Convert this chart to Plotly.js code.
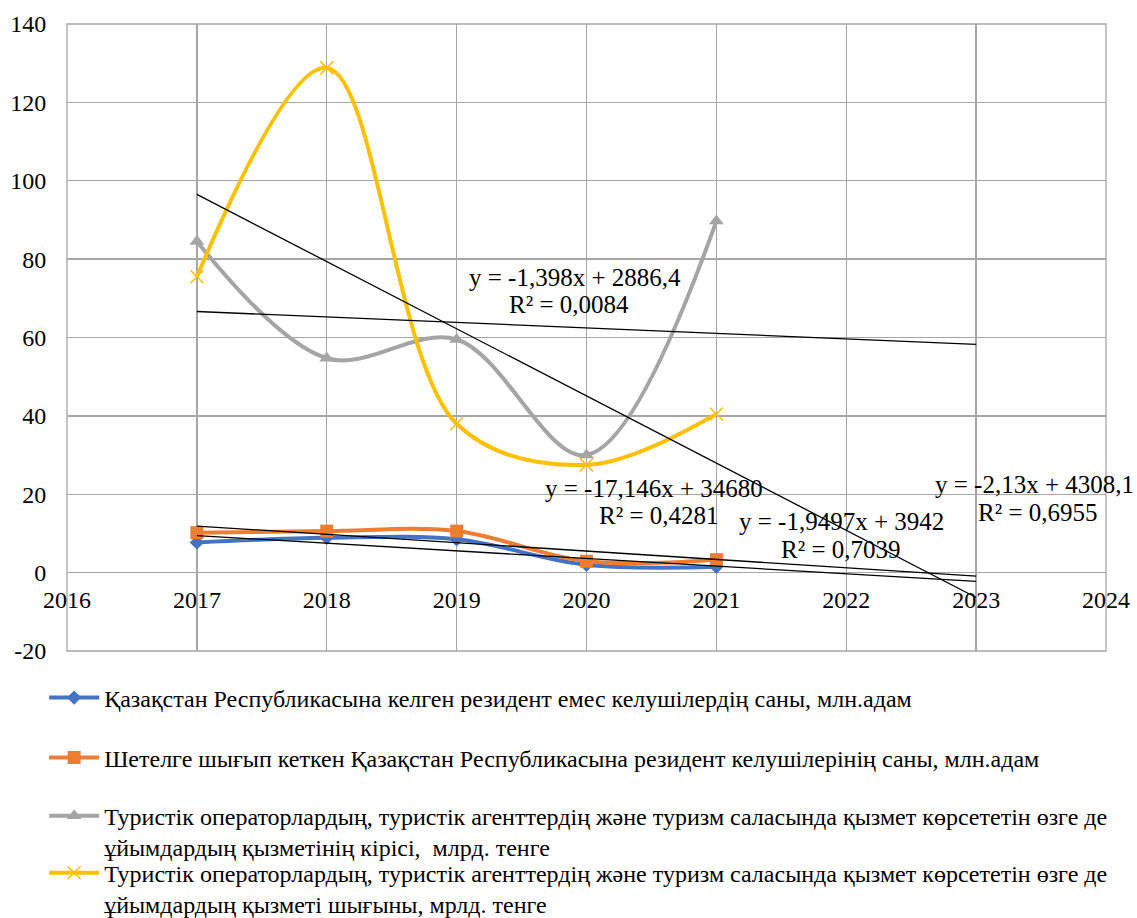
<!DOCTYPE html>
<html>
<head>
<meta charset="utf-8">
<script src="https://cdn.plot.ly/plotly-3.0.1.min.js"></script>
<style>html,body{margin:0;padding:0;background:#fff;}#chart{width:1137px;height:918px;}</style>
</head>
<body>
<div id="chart"></div>
<script>
// ---- data ----
const years = [2017, 2018, 2019, 2020, 2021];
const seriesNames = [
  "Қазақстан Республикасына келген резидент емес келушілердің саны, млн.адам",
  "Шетелге шығып кеткен Қазақстан Республикасына резидент келушілерінің саны, млн.адам",
  "Туристік операторлардың, туристік агенттердің және туризм саласында қызмет көрсететін өзге де<br>ұйымдардың қызметінің кірісі,  млрд. тенге",
  "Туристік операторлардың, туристік агенттердің және туризм саласында қызмет көрсететін өзге де<br>ұйымдардың қызметі шығыны, мрлд. тенге"
];
const nonResidentArrivals = [7.7, 8.9, 8.5, 2.0, 1.5];
const residentDepartures = [10.2, 10.6, 10.6, 2.9, 3.3];
const tourismIncome = [84.5, 54.7, 59.5, 30.0, 89.7];
const tourismExpenses = [75.5, 128.8, 38.0, 27.5, 40.5];

// trendlines (linear, from the equations shown on the chart)
const trendSlopes = [-1.398, -17.146, -1.9497, -2.13];
const trendIntercepts = [2886.4, 34680, 3942, 4308.1];
const trendEquations = ["y = -1,398x + 2886,4", "y = -17,146x + 34680", "y = -1,9497x + 3942", "y = -2,13x + 4308,1"];
const trendR2 = ["R² = 0,0084", "R² = 0,4281", "R² = 0,7039", "R² = 0,6955"];
const trendX = [2017, 2023];

const xTicks = [2016, 2017, 2018, 2019, 2020, 2021, 2022, 2023, 2024];
const yTicks = [-20, 0, 20, 40, 60, 80, 100, 120, 140];

// ---- styles ----
const FONT = "Liberation Serif";
const colors = ["#4472C4", "#ED7D31", "#A5A5A5", "#FFC000"];
const markers = [
  {symbol: "diamond", size: 11, color: colors[0]},
  {symbol: "square", size: 13, color: colors[1]},
  {symbol: "triangle-up", size: 13, color: colors[2]},
  {symbol: "x-thin-open", size: 13, color: colors[3], line: {color: colors[3], width: 1.5}}
];
const values = [nonResidentArrivals, residentDepartures, tourismIncome, tourismExpenses];
const legendIds = ["legend", "legend2", "legend3", "legend4"];

const traces = [];
values.forEach((v, i) => {
  traces.push({
    x: years, y: v, type: "scatter", mode: "lines+markers",
    name: seriesNames[i], legend: legendIds[i],
    line: {color: colors[i], width: 4, shape: "spline", smoothing: 1},
    marker: markers[i],
    hoverinfo: "x+y"
  });
});
trendSlopes.forEach((m, i) => {
  traces.push({
    x: trendX, y: trendX.map(x => m * x + trendIntercepts[i]),
    type: "scatter", mode: "lines", showlegend: false,
    line: {color: "#000000", width: 1.3}, hoverinfo: "skip"
  });
});

// label positions [eqX, eqY, r2X, r2Y] (x in years, y in data units)
const labelPos = [
  [2019.908, 75.2, 2019.869, 68.5],
  [2020.523, 21.4, 2020.562, 14.7],
  [2021.965, 13.0, 2021.962, 6.0],
  [2023.450, 22.6, 2023.480, 15.4]
];
const annotations = [];
labelPos.forEach((p, i) => {
  annotations.push({x: p[0], y: p[1], xref: "x", yref: "y", text: trendEquations[i], showarrow: false,
    font: {family: FONT, size: 25, color: "#000"}, xanchor: "center", yanchor: "middle"});
  annotations.push({x: p[2], y: p[3], xref: "x", yref: "y", text: trendR2[i], showarrow: false,
    font: {family: FONT, size: 25, color: "#000"}, xanchor: "center", yanchor: "middle"});
});

function legendAt(yPaper) {
  return {
    x: -0.022, xanchor: "left", y: yPaper, yanchor: "top",
    orientation: "v", valign: "top", itemwidth: 50,
    font: {family: FONT, size: 24, color: "#000"},
    bgcolor: "rgba(0,0,0,0)"
  };
}

const layout = {
  width: 1137, height: 918,
  margin: {l: 67, r: 31, t: 24, b: 267, autoexpand: false},
  paper_bgcolor: "#fff", plot_bgcolor: "#fff",
  font: {family: FONT, size: 24, color: "#000"},
  showlegend: true,
  xaxis: {
    range: [2016, 2024], tickvals: xTicks, ticktext: xTicks.map(String),
    anchor: "free", position: 0.125,
    showgrid: true, gridcolor: "#A6A6A6", gridwidth: 1.3,
    zeroline: false, showline: false,
    ticks: "outside", ticklen: 6, tickcolor: "rgba(0,0,0,0)",
    tickfont: {family: FONT, size: 24, color: "#000"}
  },
  yaxis: {
    range: [-20, 140], tickvals: yTicks, ticktext: yTicks.map(String),
    showgrid: true, gridcolor: "#A6A6A6", gridwidth: 1.3,
    zeroline: false, showline: false,
    ticks: "outside", ticklen: 15, tickcolor: "rgba(0,0,0,0)",
    tickfont: {family: FONT, size: 24, color: "#000"}
  },
  legend: legendAt(-0.0391),
  legend2: legendAt(-0.1348),
  legend3: legendAt(-0.2275),
  legend4: legendAt(-0.3185),
  shapes: [{type: "rect", xref: "paper", yref: "paper", x0: 0, x1: 1, y0: 0, y1: 1,
    line: {color: "#A6A6A6", width: 1.3}, fillcolor: "rgba(0,0,0,0)", layer: "below"}],
  annotations: annotations
};

Plotly.newPlot("chart", traces, layout, {displayModeBar: false, staticPlot: true});
</script>
</body>
</html>
